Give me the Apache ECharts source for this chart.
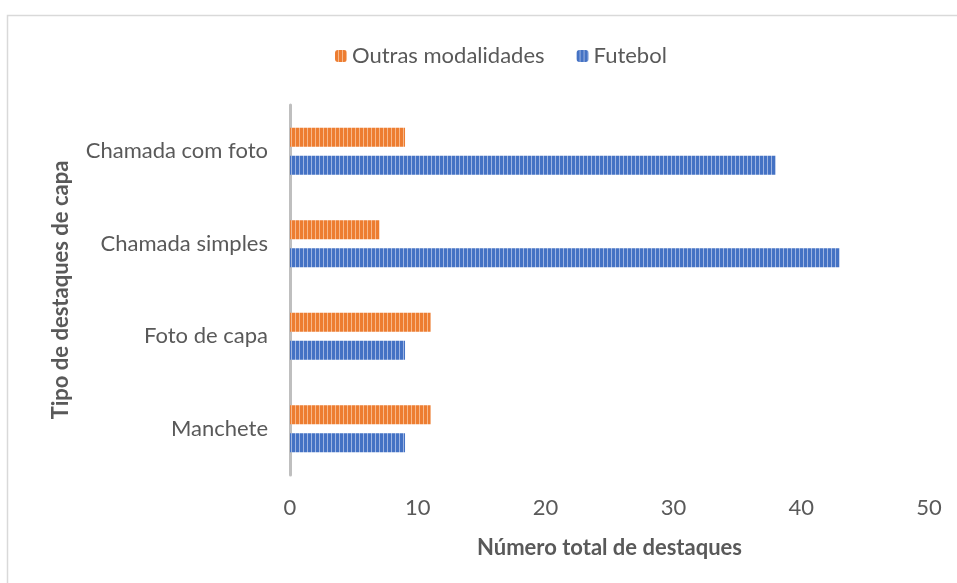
<!DOCTYPE html>
<html>
<head>
<meta charset="utf-8">
<script src="https://cdn.jsdelivr.net/npm/echarts@6/dist/echarts.min.js"></script>
<style>
  html, body { margin: 0; padding: 0; background: #fff; }
  #chart { width: 957px; height: 583px; }
</style>
</head>
<body>
<div id="chart"></div>
<script>
// dados do gráfico
var categorias = ['Manchete', 'Foto de capa', 'Chamada simples', 'Chamada com foto'];
var futebol = [9, 9, 43, 38];
var outras = [11, 11, 7, 9];
var ticksX = [0, 10, 20, 30, 40, 50];

// padrão listrado vertical (como no Excel)
function listras(base, claro) {
	var c = document.createElement('canvas');
	c.width = 4;
	c.height = 4;
	var ctx = c.getContext('2d');
	ctx.fillStyle = base;
	ctx.fillRect(0, 0, 4, 4);
	ctx.fillStyle = claro;
	ctx.fillRect(3, 0, 1, 4);
	return { image: c, repeat: 'repeat' };
}

var fonte = 'Lato, "Open Sans", sans-serif';
var chart = echarts.init(document.getElementById('chart'));

var option = {
	backgroundColor: '#fff',
	animation: false,
	graphic: [{
		type: 'rect',
		shape: { x: 7.5, y: 15.5, width: 1000, height: 700 },
		style: { fill: 'none', stroke: '#d9d9d9', lineWidth: 1.5 },
		silent: true
	}],
	legend: {
		data: ['Outras modalidades', 'Futebol'],
		top: 40,
		left: 330,
		itemWidth: 12,
		itemHeight: 12,
		itemGap: 32,
		textStyle: { fontFamily: fonte, fontSize: 22, color: '#595959' }
	},
	grid: { left: 290, right: 28, top: 105, bottom: 108, containLabel: false },
	xAxis: {
		type: 'value',
		min: ticksX[0],
		max: ticksX[ticksX.length - 1],
		interval: 10,
		name: 'Número total de destaques',
		nameLocation: 'middle',
		nameGap: 62,
		nameTextStyle: { fontFamily: fonte, fontSize: 22, fontWeight: 'bold', color: '#595959' },
		axisLine: { show: false },
		axisTick: { show: false },
		splitLine: { show: false },
		axisLabel: { fontFamily: fonte, fontSize: 22, color: '#595959', margin: 22 }
	},
	yAxis: {
		type: 'category',
		data: categorias,
		name: 'Tipo de destaques de capa',
		nameLocation: 'middle',
		nameGap: 218,
		nameTextStyle: { fontFamily: fonte, fontSize: 22, fontWeight: 'bold', color: '#595959' },
		axisLine: { show: true, lineStyle: { color: '#bfbfbf', width: 3 } },
		axisTick: { show: false },
		axisLabel: { fontFamily: fonte, fontSize: 22, color: '#595959', margin: 22 }
	},
	series: [
		{
			name: 'Outras modalidades',
			type: 'bar',
			data: outras,
			barWidth: 19,
			barGap: '47%',
			itemStyle: { color: listras('#ed7d31', '#f7b88a') }
		},
		{
			name: 'Futebol',
			type: 'bar',
			data: futebol,
			barWidth: 19,
			barGap: '47%',
			itemStyle: { color: listras('#4472c4', '#9db4e2') }
		}
	]
};

chart.setOption(option);
</script>
</body>
</html>
